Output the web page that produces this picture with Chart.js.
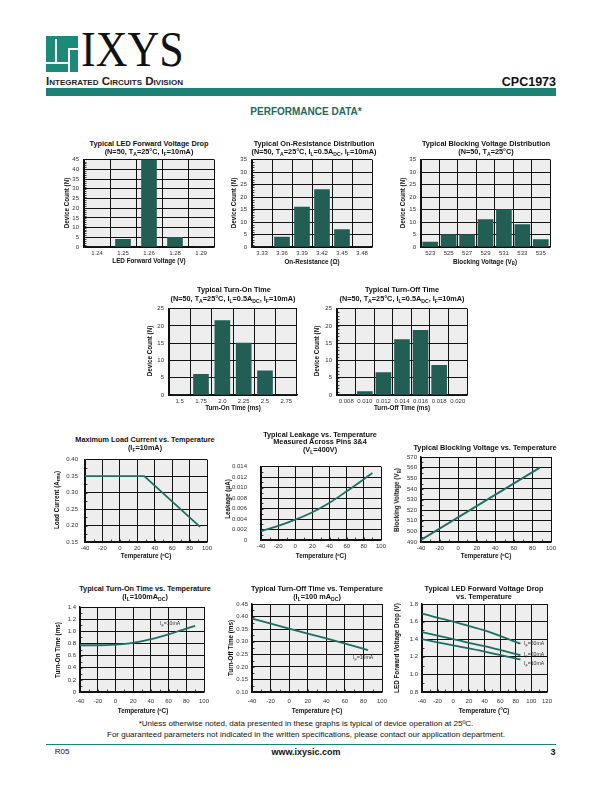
<!DOCTYPE html>
<html>
<head>
<meta charset="utf-8">
<script src="https://cdn.jsdelivr.net/npm/chart.js@4.4.1/dist/chart.umd.min.js"></script>
<style>
body{margin:0;background:#fff;}
#page{position:relative;width:612px;height:792px;overflow:hidden;font-family:'Liberation Sans',Arial,sans-serif;color:#111;}
.t{position:absolute;white-space:nowrap;transform:translate(-50%,-50%);line-height:1;}
.ct{font-weight:bold;font-size:7.3px;}
.ax{font-weight:bold;font-size:6.3px;}
.lb{font-size:5.2px;color:#333;transform:translate(0,-50%);}
.yl{transform:translate(-50%,-50%) rotate(-90deg);}
sub{font-size:70%;vertical-align:-1.5px;line-height:0;}
canvas{position:absolute;}
.abs{position:absolute;}
</style>
</head>
<body>
<div id="page">
  <!-- header -->
  <div class="abs" style="left:46px;top:36px;width:32px;height:36px;background:#1c8a78"></div>
  <div class="abs" style="left:55px;top:39px;width:1.5px;height:23px;background:#fff"></div>
  <div class="abs" style="left:46px;top:62px;width:22px;height:1.5px;background:#fff"></div>
  <div class="abs" style="left:68px;top:48px;width:1.5px;height:24px;background:#fff"></div>
  <div class="abs" style="left:68px;top:48px;width:10px;height:1.5px;background:#fff"></div>
  <div class="abs" style="left:81px;top:24px;font-family:'Liberation Serif',serif;font-size:50px;line-height:1;transform:scaleX(0.88);transform-origin:left top;color:#111">IXYS</div>
  <div class="abs" style="left:46px;top:75px;font-size:11.6px;font-weight:bold;font-variant:small-caps;line-height:1;color:#222">Integrated Circuits Division</div>
  <div class="abs" style="right:56px;top:76px;font-size:12.5px;font-weight:bold;line-height:1">CPC1973</div>
  <div class="abs" style="left:46px;top:88px;width:510px;height:8px;background:#1c8275"></div>
  <div class="t" style="left:306px;top:112px;font-size:10px;font-weight:bold;color:#24695e">PERFORMANCE DATA*</div>

  <!-- footer -->
  <div class="t" style="left:306px;top:724px;font-size:8px">*Unless otherwise noted, data presented in these graphs is typical of device operation at 25ºC.</div>
  <div class="t" style="left:306px;top:735px;font-size:8px">For guaranteed parameters not indicated in the written specifications, please contact our application department.</div>
  <div class="abs" style="left:46px;top:744px;width:510px;height:1px;background:#1c8275"></div>
  <div class="t" style="left:62px;top:752px;font-size:8px">R05</div>
  <div class="t" style="left:306px;top:752px;font-size:9px;font-weight:bold">www.ixysic.com</div>
  <div class="t" style="left:553px;top:752px;font-size:9px;font-weight:bold">3</div>
</div>
<script>
// ---- data ----
const ledCats = ['1.24', '1.25', '1.26', '1.28', '1.29'];
const ledCounts = [0, 4, 45, 5, 0];
const ronCats = ['3.33', '3.36', '3.39', '3.42', '3.45', '3.48'];
const ronCounts = [0, 4, 16, 23, 7, 0];
const bvCats = ['523', '525', '527', '529', '531', '533', '535'];
const bvCounts = [2, 5, 5, 11, 15, 9, 3];
const tonCats = ['1.5', '1.75', '2.0', '2.25', '2.5', '2.75'];
const tonCounts = [0, 6, 21.5, 15, 7, 0];
const toffCats = ['0.008', '0.010', '0.012', '0.014', '0.016', '0.018', '0.020'];
const toffCounts = [0, 1, 6.5, 16, 18.7, 8.6, 0];

const loadTemp = [-40, 28, 92];
const loadCurrent = [0.35, 0.35, 0.196];
const leakTemp = [-40, -20, 0, 20, 40, 60, 80, 90];
const leakage = [0.0017, 0.0027, 0.0039, 0.0053, 0.0071, 0.0093, 0.0116, 0.0128];
const bvTemp = [-40, 88];
const bvVolts = [492, 560];
const tonTemp = [-40, -20, 0, 20, 40, 60, 75, 90];
const tonTime = [0.77, 0.77, 0.78, 0.81, 0.87, 0.95, 1.02, 1.09];
const toffTemp = [-40, 0, 40, 85];
const toffTime = [0.392, 0.352, 0.313, 0.267];
const vfTemp = [-40, 0, 40, 86];
const vf50 = [1.69, 1.60, 1.50, 1.35];
const vf20 = [1.48, 1.40, 1.32, 1.22];
const vf10 = [1.40, 1.33, 1.26, 1.17];

// ---- helpers ----
const page = document.getElementById('page');
const FN = "'Liberation Sans Narrow', 'Arial Narrow', 'Liberation Sans', Arial, sans-serif";
const BAR = '#235e55', LINE = '#1f6e61';
const PADL = 34, PADR = 12, PADT = 8, PADB = 18;
Chart.defaults.font.family = FN;

function txt(x, y, html, cls) {
  const d = document.createElement('div');
  d.className = 't ' + cls;
  d.style.left = x + 'px';
  d.style.top = y + 'px';
  d.innerHTML = html;
  page.appendChild(d);
}

function mkCanvas(box) {
  const c = document.createElement('canvas');
  const w = box[2] - box[0] + PADL + PADR, h = box[3] - box[1] + PADT + PADB;
  c.width = w; c.height = h;
  c.style.width = w + 'px'; c.style.height = h + 'px';
  c.style.left = (box[0] - PADL) + 'px';
  c.style.top = (box[1] - PADT) + 'px';
  page.appendChild(c);
  return c;
}

const bgPlugin = {
  id: 'bg',
  beforeDraw(ch) {
    const a = ch.chartArea, c = ch.ctx;
    c.save();
    c.fillStyle = '#eeeeee';
    c.fillRect(a.left, a.top, a.right - a.left, a.bottom - a.top);
    c.restore();
  }
};

// small inner tick marks along left and bottom edges
const minorPlugin = {
  id: 'minor',
  beforeDatasetsDraw(ch, args, o) {
    const c = ch.ctx, a = ch.chartArea;
    c.save();
    c.strokeStyle = '#111';
    c.lineWidth = 0.8;
    if (o.y) {
      const s = ch.scales.y;
      for (let v = s.min + o.y; v < s.max - 1e-9; v += o.y) {
        const p = Math.round(s.getPixelForValue(v)) + 0.5;
        c.beginPath(); c.moveTo(a.left, p); c.lineTo(a.left + 2.5, p); c.stroke();
      }
    }
    if (o.x) {
      const s = ch.scales.x;
      for (let v = s.min + o.x; v < s.max - 1e-9; v += o.x) {
        const p = Math.round(s.getPixelForValue(v)) + 0.5;
        c.beginPath(); c.moveTo(p, a.bottom); c.lineTo(p, a.bottom - 2.5); c.stroke();
      }
    }
    c.restore();
  }
};

function yAxis(min, max, step, pad, cb) {
  return {
    min: min, max: max,
    grid: {color: '#111', lineWidth: 1, drawTicks: false},
    border: {color: '#111', width: 1.4},
    ticks: {stepSize: step, color: '#333', font: {size: 6}, padding: pad, autoSkip: false, callback: cb},
    afterFit: s => { s.width = PADL; }
  };
}

function xLin(min, max, step, pad) {
  return {
    type: 'linear', min: min, max: max,
    grid: {color: '#111', lineWidth: 1, drawTicks: false},
    border: {color: '#111', width: 1.4},
    ticks: {stepSize: step, color: '#333', font: {size: 6}, padding: pad, maxRotation: 0, autoSkip: false},
    afterFit: s => { s.height = PADB; }
  };
}

function xCat(pad) {
  return {
    grid: {color: '#111', lineWidth: 1, drawTicks: false, offset: true},
    border: {color: '#111', width: 1.4},
    ticks: {color: '#333', font: {size: 6}, padding: pad, maxRotation: 0, autoSkip: false},
    afterFit: s => { s.height = PADB; }
  };
}

function draw(box, type, data, x, y, minor) {
  return new Chart(mkCanvas(box), {
    type: type,
    data: data,
    options: {
      responsive: false, animation: false, devicePixelRatio: 1,
      layout: {padding: {top: PADT, right: PADR, left: 0, bottom: 0}},
      plugins: {legend: {display: false}, tooltip: {enabled: false}, minor: minor},
      scales: {x: x, y: y}
    },
    plugins: [bgPlugin, minorPlugin]
  });
}

function barData(cats, vals) {
  return {labels: cats, datasets: [{data: vals, backgroundColor: BAR, barThickness: 15}]};
}

function series(xs, ys, smooth) {
  return {
    data: xs.map((v, i) => ({x: v, y: ys[i]})),
    showLine: true, borderColor: LINE, borderWidth: 1.8, pointRadius: 0,
    tension: smooth ? 0.4 : 0, cubicInterpolationMode: smooth ? 'monotone' : 'default'
  };
}

const f2 = v => v.toFixed(2);
const f1 = v => (v === 0 ? '0' : v.toFixed(1));
const f1b = v => v.toFixed(1);
const f3 = v => (v === 0 ? '0' : v.toFixed(3));

// ---- row 1: distributions ----
draw([84, 159, 214, 247], 'bar', barData(ledCats, ledCounts), xCat(3), yAxis(0, 45, 5, 5), {y: 1});
txt(149, 144, 'Typical LED Forward Voltage Drop', 'ct');
txt(149, 152, '(N=50, T<sub>A</sub>=25°C, I<sub>F</sub>=10mA)', 'ct');
txt(149, 261, 'LED Forward Voltage (V)', 'ax');
txt(67, 203, 'Device Count (N)', 'ax yl');

draw([252, 159, 372, 247], 'bar', barData(ronCats, ronCounts), xCat(3), yAxis(0, 35, 5, 5), {y: 1});
txt(314, 144, 'Typical On-Resistance Distribution', 'ct');
txt(314, 152, '(N=50, T<sub>A</sub>=25°C, I<sub>L</sub>=0.5A<sub>DC</sub>, I<sub>F</sub>=10mA)', 'ct');
txt(312, 262, 'On-Resistance (Ω)', 'ax');
txt(234, 203, 'Device Count (N)', 'ax yl');

draw([421, 159, 550, 247], 'bar', barData(bvCats, bvCounts), xCat(3), yAxis(0, 35, 5, 5), {});
txt(486, 144, 'Typical Blocking Voltage Distribution', 'ct');
txt(486, 152, '(N=50, T<sub>A</sub>=25°C)', 'ct');
txt(485, 262, 'Blocking Voltage (V<sub>B</sub>)', 'ax');
txt(403, 203, 'Device Count (N)', 'ax yl');

// ---- row 2: switching time distributions ----
draw([169, 308, 297, 395], 'bar', barData(tonCats, tonCounts), xCat(3), yAxis(0, 25, 5, 5), {});
txt(234, 290, 'Typical Turn-On Time', 'ct');
txt(233, 298.7, '(N=50, T<sub>A</sub>=25°C, I<sub>L</sub>=0.5A<sub>DC</sub>, I<sub>F</sub>=10mA)', 'ct');
txt(233, 408, 'Turn-On Time (ms)', 'ax');
txt(150, 351, 'Device Count (N)', 'ax yl');

draw([337, 308, 467, 395], 'bar', barData(toffCats, toffCounts), xCat(3), yAxis(0, 25, 5, 5), {y: 1});
txt(402, 290, 'Typical Turn-Off Time', 'ct');
txt(402, 298.7, '(N=50, T<sub>A</sub>=25°C, I<sub>L</sub>=0.5A<sub>DC</sub>, I<sub>F</sub>=10mA)', 'ct');
txt(402, 408, 'Turn-Off Time (ms)', 'ax');
txt(317, 351, 'Device Count (N)', 'ax yl');

// ---- row 3: vs temperature ----
draw([85, 457, 207, 542], 'scatter', {datasets: [series(loadTemp, loadCurrent, false)]},
  xLin(-40, 100, 20, 3), yAxis(0.15, 0.40, 0.05, 7, f2), {x: 10, y: 0.025});
txt(145, 440, 'Maximum Load Current vs. Temperature', 'ct');
txt(145, 447.7, '(I<sub>F</sub>=10mA)', 'ct');
txt(146, 556, 'Temperature (ºC)', 'ax');
txt(57, 500, 'Load Current (A<sub>rms</sub>)', 'ax yl');

draw([261, 457, 381, 540], 'scatter', {datasets: [series(leakTemp, leakage, true)]},
  xLin(-40, 100, 20, 3), yAxis(0, 0.014, 0.002, 14, f3), {x: 10, y: 0.001});
txt(320, 435, 'Typical Leakage vs. Temperature', 'ct');
txt(320, 442.3, 'Measured Across Pins 3&amp;4', 'ct');
txt(320, 450, '(V<sub>L</sub>=400V)', 'ct');
txt(321, 556, 'Temperature (ºC)', 'ax');
txt(228, 499, 'Leakage (μA)', 'ax yl');

draw([421, 457, 551, 542], 'scatter', {datasets: [series(bvTemp, bvVolts, false)]},
  xLin(-40, 100, 20, 3), yAxis(490, 570, 10, 4), {x: 10, y: 5});
txt(485, 447.7, 'Typical Blocking Voltage vs. Temperature', 'ct');
txt(486, 556, 'Temperature (ºC)', 'ax');
txt(397, 500, 'Blocking Voltage (V<sub>B</sub>)', 'ax yl');

// ---- row 4: vs temperature ----
draw([80, 607, 204, 692], 'scatter', {datasets: [series(tonTemp, tonTime, true)]},
  xLin(-40, 100, 20, 6), yAxis(0, 1.4, 0.2, 4, f1), {x: 10, y: 0.1});
txt(145, 589, 'Typical Turn-On Time vs. Temperature', 'ct');
txt(145, 597, '(I<sub>L</sub>=100mA<sub>DC</sub>)', 'ct');
txt(143, 711, 'Temperature (ºC)', 'ax');
txt(58, 650, 'Turn-On Time (ms)', 'ax yl');
txt(160, 624, 'I<sub>F</sub>=10mA', 'lb');

draw([252, 604, 382, 692], 'scatter', {datasets: [series(toffTemp, toffTime, true)]},
  xLin(-40, 100, 20, 6), yAxis(0.10, 0.45, 0.05, 4, f2), {x: 10, y: 0.025});
txt(317, 589, 'Typical Turn-Off Time vs. Temperature', 'ct');
txt(317, 597, '(I<sub>L</sub>=100 mA<sub>DC</sub>)', 'ct');
txt(317, 711, 'Temperature (ºC)', 'ax');
txt(231, 648, 'Turn-Off Time (ms)', 'ax yl');
txt(353, 658, 'I<sub>F</sub>=10mA', 'lb');

draw([422, 604, 547, 692], 'scatter',
  {datasets: [series(vfTemp, vf50, true), series(vfTemp, vf20, true), series(vfTemp, vf10, true)]},
  xLin(-40, 120, 20, 6), yAxis(0.8, 1.8, 0.2, 4, f1b), {x: 10, y: 0.1});
txt(484, 589, 'Typical LED Forward Voltage Drop', 'ct');
txt(484, 597, 'vs. Temperature', 'ct');
txt(484, 711, 'Temperature (°C)', 'ax');
txt(397, 648, 'LED Forward Voltage Drop (V)', 'ax yl');
txt(524, 644, 'I<sub>F</sub>=50mA', 'lb');
txt(524, 655, 'I<sub>F</sub>=20mA', 'lb');
txt(524, 664, 'I<sub>F</sub>=10mA', 'lb');
</script>
</body>
</html>
